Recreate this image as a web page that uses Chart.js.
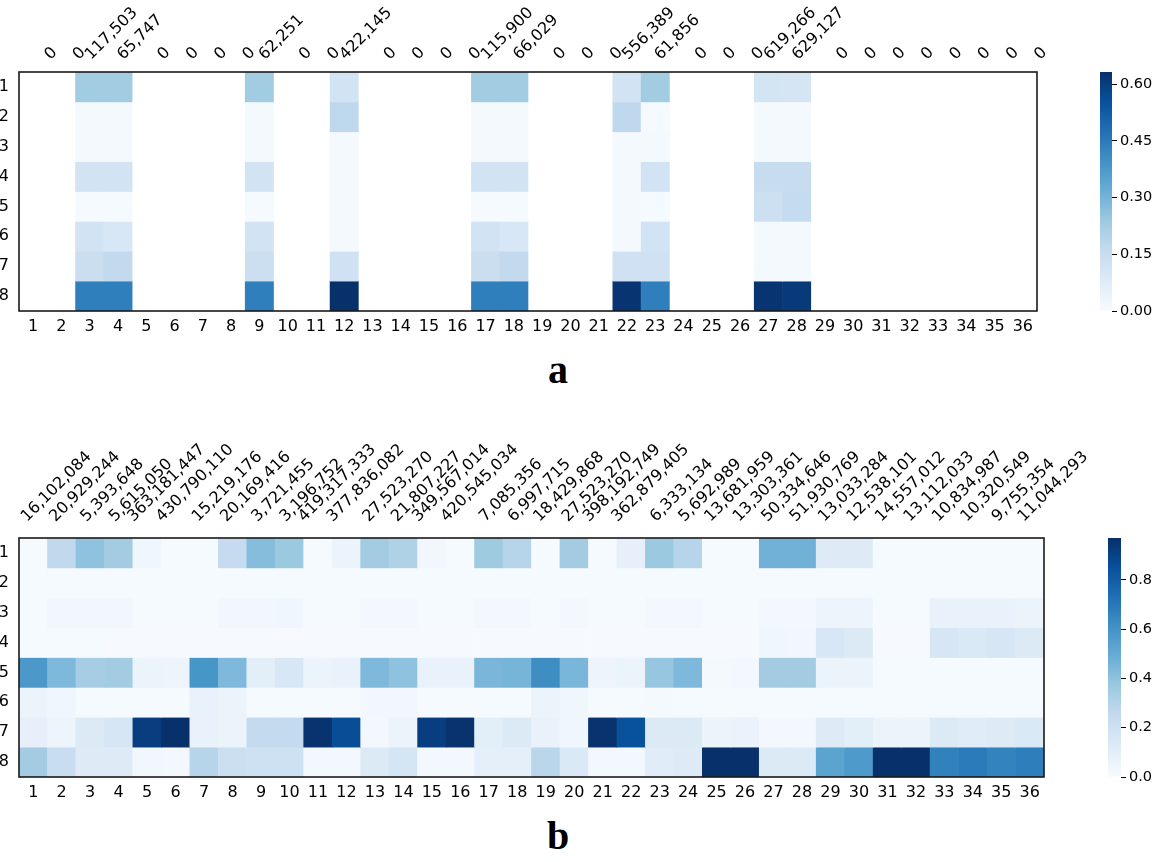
<!DOCTYPE html>
<html>
<head>
<meta charset="utf-8">
<title>heatmaps</title>
<script src="https://cdn.jsdelivr.net/npm/chart.js@4.4.0/dist/chart.umd.min.js"></script>
<style>
  html, body { margin:0; padding:0; background:#fff; }
  body { width:1152px; height:862px; position:relative; overflow:hidden; }
  .box { position:absolute; }
  .panel { position:absolute; font-family:"Liberation Serif","Times New Roman",serif; font-weight:bold; font-size:40px; line-height:40px; color:#000; }
</style>
</head>
<body>
<div class="box" style="left:0;top:0;width:1130px;height:340px"><canvas id="heatA"></canvas></div>
<div class="box" style="left:1080px;top:0;width:72px;height:340px"><canvas id="barA"></canvas></div>
<div class="panel" style="left:548px;top:350px">a</div>
<div class="box" style="left:0;top:420px;width:1130px;height:386px"><canvas id="heatB"></canvas></div>
<div class="box" style="left:1080px;top:420px;width:72px;height:386px"><canvas id="barB"></canvas></div>
<div class="panel" style="left:547px;top:816px">b</div>
<script>
(function(){
  const _ = null;

  const colLabels = ['1','2','3','4','5','6','7','8','9','10','11','12','13','14','15','16','17','18',
    '19','20','21','22','23','24','25','26','27','28','29','30','31','32','33','34','35','36'];
  const rowLabels = [1,2,3,4,5,6,7,8];

  const topLabelsA = ['0','0','117,503','65,747','0','0','0','0','62,251','0','0','422,145',
    '0','0','0','0','115,900','66,029','0','0','0','556,389','61,856','0',
    '0','0','619,266','629,127','0','0','0','0','0','0','0','0'];

  const topLabelsB = ['16,102,084','20,929,244','5,393,648','5,615,050','363,181,447','430,790,110',
    '15,219,176','20,169,416','3,721,455','3,196,752','419,317,333','377,836,082',
    '27,523,270','21,807,227','349,567,014','420,545,034','7,085,356','6,997,715',
    '18,429,868','27,523,270','398,192,749','362,879,405','6,333,134','5,692,989',
    '13,681,959','13,303,361','50,334,646','51,930,769','13,033,284','12,538,101',
    '14,557,012','13,112,033','10,834,987','10,320,549','9,755,354','11,044,293'];

  // panel a: empty columns are masked (drawn white)
  const heatA = [
    [_,_,.23,.23,_,_,_,_,.23,_,_,.12,_,_,_,_,.23,.23,_,_,_,.12,.23,_,_,_,.115,.11,_,_,_,_,_,_,_,_],
    [_,_,.01,.01,_,_,_,_,.01,_,_,.17,_,_,_,_,.01,.01,_,_,_,.17,.005,_,_,_,.01,.01,_,_,_,_,_,_,_,_],
    [_,_,.01,.01,_,_,_,_,.01,_,_,.01,_,_,_,_,.01,.01,_,_,_,.01,.01,_,_,_,.01,.01,_,_,_,_,_,_,_,_],
    [_,_,.12,.12,_,_,_,_,.12,_,_,.01,_,_,_,_,.12,.12,_,_,_,.01,.12,_,_,_,.155,.155,_,_,_,_,_,_,_,_],
    [_,_,.005,.005,_,_,_,_,.005,_,_,.01,_,_,_,_,.005,.005,_,_,_,.01,.005,_,_,_,.135,.16,_,_,_,_,_,_,_,_],
    [_,_,.12,.10,_,_,_,_,.12,_,_,.01,_,_,_,_,.12,.10,_,_,_,.01,.12,_,_,_,.01,.01,_,_,_,_,_,_,_,_],
    [_,_,.145,.165,_,_,_,_,.14,_,_,.13,_,_,_,_,.145,.165,_,_,_,.13,.13,_,_,_,.01,.01,_,_,_,_,_,_,_,_],
    [_,_,.44,.44,_,_,_,_,.44,_,_,.63,_,_,_,_,.44,.44,_,_,_,.62,.44,_,_,_,.62,.61,_,_,_,_,_,_,_,_]
  ];

  const heatB = [
    [.01,.26,.40,.35,.04,.01,.01,.24,.42,.37,.01,.06,.35,.31,.03,.01,.36,.29,.01,.35,.01,.08,.37,.29,.01,.01,.47,.47,.12,.12,.01,.01,.01,.01,.01,.01],
    [.01,.01,.01,.01,.01,.01,.01,.01,.01,.01,.01,.01,.01,.01,.01,.01,.01,.01,.01,.01,.01,.01,.01,.01,.01,.01,.01,.01,.01,.01,.01,.01,.01,.01,.01,.01],
    [.01,.03,.03,.03,.01,.01,.01,.03,.03,.035,.01,.01,.02,.02,.01,.01,.025,.025,.01,.02,.01,.01,.02,.02,.01,.01,.02,.02,.05,.05,.01,.01,.07,.07,.07,.06],
    [.01,.01,.01,.005,.005,.005,.005,.005,.005,.005,.005,.005,.005,.005,.005,.005,.005,.005,.005,.005,.005,.005,.005,.005,.005,.005,.04,.03,.15,.13,.005,.005,.16,.14,.16,.13],
    [.58,.44,.34,.35,.06,.05,.59,.44,.10,.15,.06,.07,.44,.40,.07,.07,.45,.46,.62,.45,.05,.055,.38,.44,.015,.02,.35,.35,.055,.055,.01,.01,.01,.01,.01,.01],
    [.055,.035,.01,.01,.01,.01,.07,.055,.01,.01,.01,.01,.03,.03,.01,.01,.01,.01,.055,.04,.01,.01,.015,.01,.01,.01,.01,.01,.01,.01,.01,.01,.01,.01,.01,.01],
    [.08,.05,.13,.16,.92,.97,.07,.055,.25,.25,.96,.86,.02,.06,.92,.96,.10,.13,.07,.035,.96,.85,.13,.13,.055,.065,.025,.025,.12,.10,.06,.06,.13,.11,.12,.14],
    [.35,.23,.12,.12,.03,.02,.29,.21,.20,.20,.025,.025,.13,.17,.02,.02,.09,.09,.28,.14,.02,.02,.11,.12,.97,.97,.13,.13,.53,.57,.97,.97,.67,.69,.66,.68]
  ];

  const maxA = 0.632;
  const maxB = 0.97;
  const cbarTicksA = [0, 0.15, 0.30, 0.45, 0.60];
  const cbarTicksB = [0, 0.2, 0.4, 0.6, 0.8];

  const bluesStops = ['#f7fbff','#deebf7','#c6dbef','#9ecae1','#6baed6','#4292c6','#2171b5','#08519c','#08306b'];

  function hexRgb(h){ return [1,3,5].map(i => parseInt(h.substr(i,2),16)); }
  function blues(t){
    t = Math.max(0, Math.min(1, t));
    const p = t * 8, i = Math.min(7, Math.floor(p)), f = p - i;
    const a = hexRgb(bluesStops[i]), b = hexRgb(bluesStops[i+1]);
    const c = a.map((v,k) => Math.round(v + (b[k]-v)*f));
    return `rgb(${c[0]},${c[1]},${c[2]})`;
  }

  Chart.defaults.font.family = '"DejaVu Sans", sans-serif';
  Chart.defaults.font.size = 16;
  Chart.defaults.color = '#000';

  const frame = {
    id:'frame',
    afterDatasetsDraw(chart){
      const a = chart.chartArea, c = chart.ctx;
      c.save(); c.strokeStyle = '#1a1a1a'; c.lineWidth = 1.6;
      c.strokeRect(a.left, a.top, a.right - a.left, a.bottom - a.top);
      c.restore();
    }
  };

  // the extra top axes get no height in the layout; open their label clip up to the canvas top
  const topBand = {
    id:'topBand',
    afterLayout(chart){
      const a = chart.chartArea;
      Object.values(chart.scales).forEach(s => {
        if(s.options.position === 'top'){ s.top = 0; s.bottom = a.top; }
      });
    }
  };

  function heatmap(id, rows, maxV, topLabels, shifts, geo){
    const datasets = rows.map((row, r) => ({
      data: row.map(v => v === null ? null : [r + 0.5, r + 1.5]),
      backgroundColor: row.map(v => v === null ? 'rgba(0,0,0,0)' : blues(v / maxV)),
      borderWidth: 0, barPercentage: 1, categoryPercentage: 1, grouped: false
    }));

    const scales = {
      x: {
        position:'bottom', offset:true,
        grid:{ display:false, drawTicks:false }, border:{ display:false },
        ticks:{ padding:6, autoSkip:false, maxRotation:0 },
        afterFit: s => { s.height = geo.bottomH; s.paddingLeft = 0; s.paddingRight = 0; }
      },
      y: {
        type:'linear', min:0.5, max:8.5, reverse:true, bounds:'data',
        grid:{ display:false, drawTicks:false }, border:{ display:false },
        ticks:{ padding:10 },
        afterBuildTicks: s => { s.ticks = rowLabels.map(v => ({ value:v })); },
        afterFit: s => { s.width = 19; s.paddingTop = 0; s.paddingBottom = 0; }
      }
    };

    // one top axis per label length, so each group can be nudged like the original
    const lens = Array.from(new Set(topLabels.map(l => l.length)));
    lens.forEach((len, k) => {
      const sh = (shifts[len] || 0) / geo.colW;
      scales['top' + len] = {
        type:'linear', position:'top', bounds:'data', offset:false, min:0.5 - sh, max:36.5 - sh,
        grid:{ display:false, drawTicks:false }, border:{ display:false },
        ticks:{ padding:geo.labelPad, autoSkip:false, minRotation:45, maxRotation:45, callback: v => topLabels[v-1] },
        afterBuildTicks: s => {
          s.ticks = topLabels.map((l,i) => ({ value:i+1, len:l.length })).filter(t => t.len === len).map(t => ({ value:t.value }));
        },
        afterFit: s => { s.height = k === 0 ? geo.topH : 0; s.paddingLeft = 0; s.paddingRight = 0; }
      };
    });

    return new Chart(document.getElementById(id), {
      type:'bar',
      data:{ labels: colLabels, datasets },
      options:{
        responsive:true, maintainAspectRatio:false, animation:false, events:[],
        layout:{ padding:{ left:0, top:0, bottom:0, right:geo.padRight } },
        plugins:{ legend:{ display:false }, tooltip:{ enabled:false } },
        scales
      },
      plugins:[topBand, frame]
    });
  }

  function colorbar(id, maxV, ticks, dec, geo){
    return new Chart(document.getElementById(id), {
      type:'bar',
      data:{ labels:[''], datasets:[{
        data:[[0, maxV]],
        backgroundColor: c => {
          const a = c.chart.chartArea;
          if(!a) return bluesStops[4];
          const g = c.chart.ctx.createLinearGradient(0, a.bottom, 0, a.top);
          bluesStops.forEach((col, i) => g.addColorStop(i / 8, col));
          return g;
        },
        borderWidth:0, barPercentage:1, categoryPercentage:1
      }]},
      options:{
        responsive:true, maintainAspectRatio:false, animation:false, events:[],
        layout:{ padding:{ left:geo.left, top:geo.top, bottom:geo.bottom, right:0 } },
        plugins:{ legend:{ display:false }, tooltip:{ enabled:false } },
        scales:{
          x:{ display:false },
          y:{
            position:'right', min:0, max:maxV, bounds:'data',
            grid:{ display:true, drawOnChartArea:false, drawTicks:true, tickLength:5, color:'#000', lineWidth:1 },
            border:{ display:false },
            ticks:{ padding:3, font:{ size:14.5 }, callback: v => v.toFixed(dec) },
            afterBuildTicks: s => { s.ticks = ticks.map(v => ({ value:v })); },
            afterFit: s => { s.width = geo.axisW; s.paddingTop = 0; s.paddingBottom = 0; }
          }
        }
      }
    });
  }

  document.addEventListener('DOMContentLoaded', () => {
    heatmap('heatA', heatA, maxA, topLabelsA, { 1:28, 6:16, 7:12 },
      { topH:72, bottomH:29, padRight:93, colW:28.28, labelPad:8 });
    colorbar('barA', maxA, cbarTicksA, 2, { left:20, top:72, bottom:29, axisW:40 });

    heatmap('heatB', heatB, maxB, topLabelsB, { 9:7, 10:4.5, 11:-3 },
      { topH:118, bottomH:29, padRight:86, colW:28.47, labelPad:12 });
    colorbar('barB', maxB, cbarTicksB, 1, { left:28, top:118, bottom:29, axisW:31 });
  });
})();
</script>
</body>
</html>
